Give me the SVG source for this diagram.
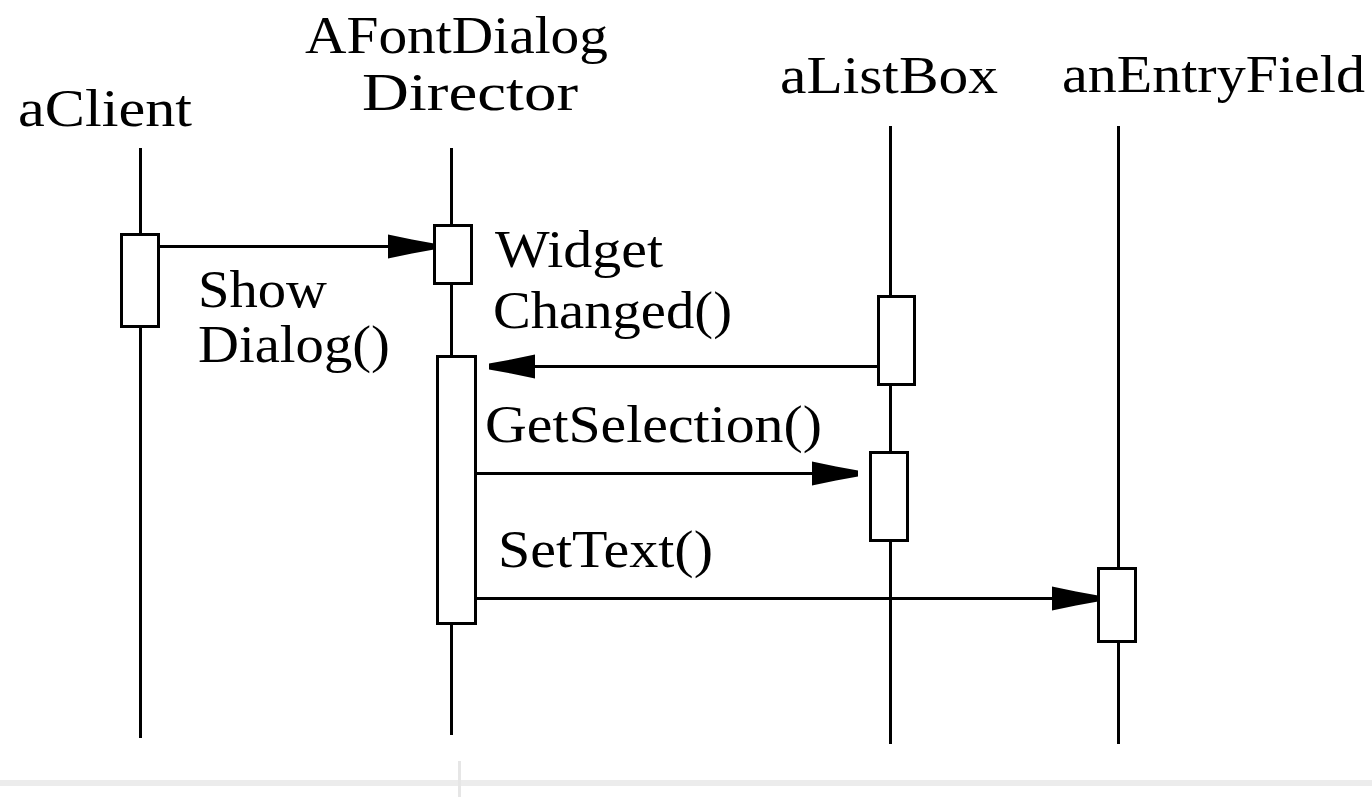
<svg xmlns="http://www.w3.org/2000/svg" width="1372" height="797" viewBox="0 0 1372 797">
  <style>
    .lbl { font-family: "Liberation Serif", "Times New Roman", serif; font-size: 53px; fill: #000; }
    .life { stroke: #000; stroke-width: 3; fill: none; }
    .act { stroke: #000; stroke-width: 3; fill: #fff; }
    .msg { stroke: #000; stroke-width: 3; fill: none; }
    .head { fill: #000; stroke: none; }
  </style>
  <defs>
    <!-- filled arrowhead, tip at origin pointing +x -->
    <polygon id="ah" points="0,0 0,-3 -22,-7 -46,-12 -46,12 -22,7 0,3"/>
  </defs>
  <rect width="1372" height="797" fill="#fff"/>

  <g id="aClient">
    <text class="lbl" x="18" y="126" textLength="174" lengthAdjust="spacingAndGlyphs">aClient</text>
    <line class="life" x1="140.5" y1="148" x2="140.5" y2="738"/>
    <rect class="act" x="121.5" y="234.5" width="37" height="92"/>
  </g>

  <g id="director">
    <text class="lbl" x="305" y="53" textLength="303" lengthAdjust="spacingAndGlyphs">AFontDialog</text>
    <text class="lbl" x="362" y="110" textLength="216" lengthAdjust="spacingAndGlyphs">Director</text>
    <line class="life" x1="451.5" y1="148" x2="451.5" y2="735"/>
    <rect class="act" x="434.5" y="225.5" width="37" height="58"/>
    <rect class="act" x="437.5" y="356.5" width="38" height="267"/>
  </g>

  <g id="aListBox">
    <text class="lbl" x="780" y="93" textLength="218" lengthAdjust="spacingAndGlyphs">aListBox</text>
    <line class="life" x1="890.5" y1="126" x2="890.5" y2="744"/>
    <rect class="act" x="878.5" y="296.5" width="36" height="88"/>
    <rect class="act" x="870.5" y="452.5" width="37" height="88"/>
  </g>

  <g id="anEntryField">
    <text class="lbl" x="1062" y="92" textLength="303" lengthAdjust="spacingAndGlyphs">anEntryField</text>
    <line class="life" x1="1118.5" y1="126" x2="1118.5" y2="744"/>
    <rect class="act" x="1098.5" y="568.5" width="37" height="73"/>
  </g>

  <g id="connectors">
    <!-- ShowDialog() -->
    <line class="msg" x1="158" y1="246.5" x2="415" y2="246.5"/>
    <use href="#ah" class="head" transform="translate(434,246.5)"/>
    <text class="lbl" x="198" y="307" textLength="129" lengthAdjust="spacingAndGlyphs">Show</text>
    <text class="lbl" x="198" y="362" textLength="192" lengthAdjust="spacingAndGlyphs">Dialog()</text>

    <!-- WidgetChanged() -->
    <line class="msg" x1="879" y1="366.5" x2="505" y2="366.5"/>
    <use href="#ah" class="head" transform="translate(489,366.5) rotate(180)"/>
    <text class="lbl" x="495" y="267" textLength="168" lengthAdjust="spacingAndGlyphs">Widget</text>
    <text class="lbl" x="493" y="328" textLength="239" lengthAdjust="spacingAndGlyphs">Changed()</text>

    <!-- GetSelection() -->
    <line class="msg" x1="475" y1="473.5" x2="840" y2="473.5"/>
    <use href="#ah" class="head" transform="translate(858,473.5)"/>
    <text class="lbl" x="485" y="442" textLength="337" lengthAdjust="spacingAndGlyphs">GetSelection()</text>

    <!-- SetText() -->
    <line class="msg" x1="475" y1="598.5" x2="1080" y2="598.5"/>
    <use href="#ah" class="head" transform="translate(1098,598.5)"/>
    <text class="lbl" x="498" y="567" textLength="215" lengthAdjust="spacingAndGlyphs">SetText()</text>
  </g>

  <!-- page footer strip -->
  <rect x="0" y="780" width="1372" height="6" fill="#ececec"/>
  <rect x="458" y="761" width="3" height="36" fill="#e6e6e6"/>
</svg>
